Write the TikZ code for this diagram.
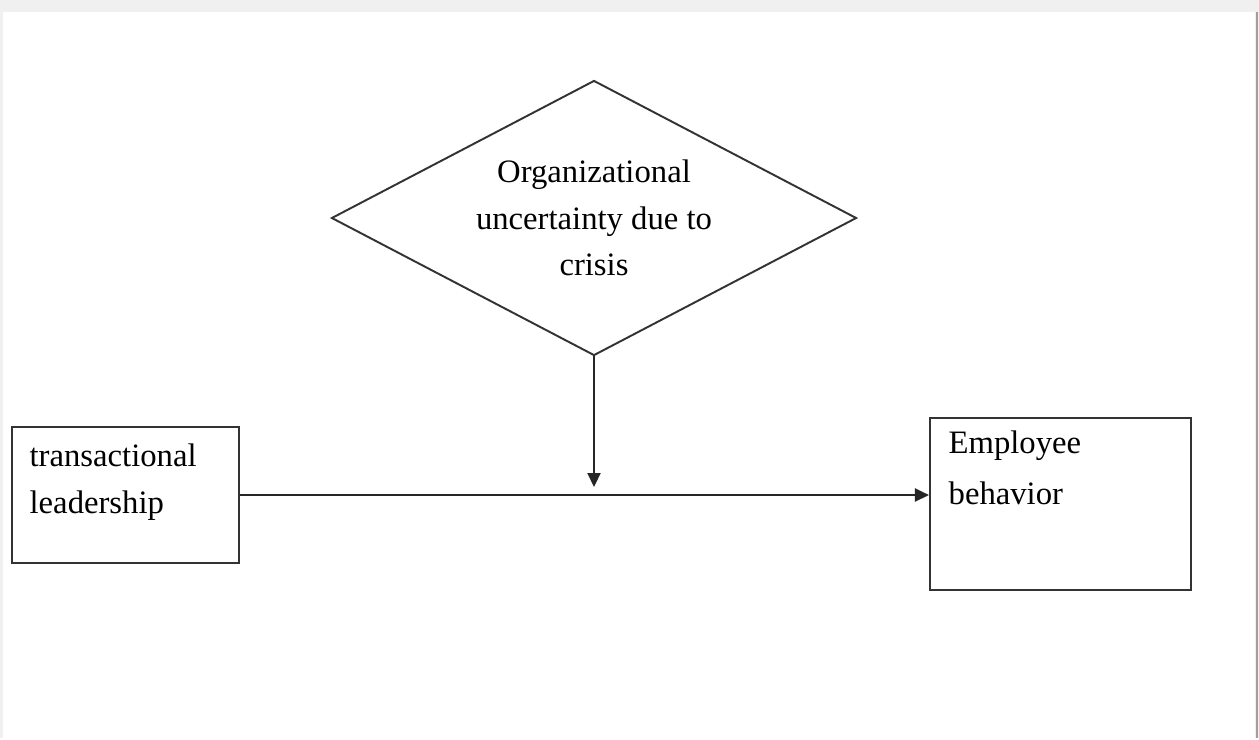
\documentclass[tikz,border=0pt]{standalone}
\usepackage{fontspec}
\setmainfont{Liberation Serif}
\usetikzlibrary{arrows.meta, positioning, shapes.geometric}

\begin{document}
\begin{tikzpicture}[
  box/.style={draw=black!80, line width=0.6pt, inner sep=0pt},
  dia/.style={draw=black!80, line width=0.55pt, diamond, aspect=1.91, inner sep=0pt,
              minimum width=5.25cm, minimum height=2.75cm, align=center,
              font=\fontsize{9.3}{13.2}\selectfont},
  txt/.style={inner sep=0pt, align=left, font=\fontsize{9.3}{13.3}\selectfont},
  arr/.style={-{Triangle[length=1.4mm, width=1.3mm]}, line width=0.6pt, black!85},
]
% page with the grey edge
\fill[gray!12] (0,0) rectangle (12.59,7.38);
\fill[white] (0.03,0) rectangle (12.55,7.26);
\draw[gray!75, line width=0.8pt] (12.57,0) -- (12.57,7.26);
\useasboundingbox (0,0) rectangle (12.59,7.38);

% moderator
\node[dia] at (5.94,5.20) (unc) {Organizational\\uncertainty due to\\crisis};

% independent and dependent variables
\node[box, minimum width=2.27cm, minimum height=1.36cm] at (1.255,2.43) (lead) {};
\node[txt, below right=0.17cm and 0.18cm of lead.north west] (leadtxt)
     {transactional\\leadership};
\node[box, minimum width=2.61cm, minimum height=1.72cm] at (10.605,2.34) (emp) {};
\node[txt, font=\fontsize{9.3}{14.6}\selectfont,
      below right=0.13cm and 0.19cm of emp.north west] (emptxt)
     {Employee\\behavior};

% arrows
\coordinate (hit) at (5.94,2.51);
\draw[arr] (lead.east) -- (lead.east -| emp.west);
\draw[arr] (unc.south) -- (hit);
\end{tikzpicture}
\end{document}
